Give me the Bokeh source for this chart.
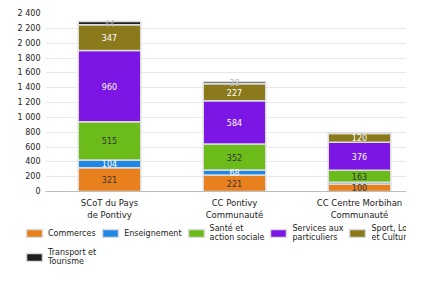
from bokeh.plotting import figure
from bokeh.layouts import column
from bokeh.models import ColumnDataSource, FixedTicker, Legend, LegendItem, Range1d
from bokeh.core.properties import value
from bokeh.embed import file_html
from bokeh.resources import INLINE

categories = ["SCoT du Pays\nde Pontivy", "CC Pontivy\nCommunauté", "CC Centre Morbihan\nCommunauté"]
series_names = ["Commerces", "Enseignement", "Santé et\naction sociale",
                "Services aux\nparticuliers", "Sport, Loisirs\net Culture", "Transport et\nTourisme"]
commerces = [321, 221, 100]
enseignement = [104, 68, 24]
sante = [515, 352, 163]
services = [960, 584, 376]
sport = [347, 227, 120]
transport = [44, 28, 8]
y_ticks = [0, 200, 400, 600, 800, 1000, 1200, 1400, 1600, 1800, 2000, 2200, 2400]

colors = ["#E8801E", "#1F87E6", "#6BBB1B", "#7B16E4", "#8A7A1C", "#1F1F1F"]
label_colors = ["#333333", "#ffffff", "#333333", "#ffffff", "#ffffff", "#b5b5b5"]
FONT = "DejaVu Sans"
EDGE = "#dcdcdc"

series = [commerces, enseignement, sante, services, sport, transport]
keys = ["s%d" % i for i in range(len(series))]
xs = list(range(len(categories)))
data = {"x": xs}
for k, s in zip(keys, series):
    data[k] = s
source = ColumnDataSource(data)

p = figure(width=406, height=222, output_backend="svg", toolbar_location=None,
           x_range=Range1d(-0.512, 2.376), y_range=Range1d(0, 2400),
           min_border_left=45, min_border_right=0, min_border_top=13, min_border_bottom=28)
p.outline_line_color = None
p.frame_align = False

p.vbar_stack(keys, x="x", width=0.5, color=colors, source=source,
             line_color=EDGE, line_width=1.5)

# data labels
lx, ly, lt, lc = [], [], [], []
for j in range(len(categories)):
    base = 0
    for i, s in enumerate(series):
        v = s[j]
        if v >= 25:
            lx.append(xs[j])
            ly.append(base + v / 2)
            lt.append(str(v))
            lc.append(label_colors[i])
        base += v
p.text(x=lx, y=ly, text=lt, text_color=lc, text_align="center", text_baseline="middle",
       text_font=value(FONT), text_font_size="8px")

# axes
p.yaxis.ticker = FixedTicker(ticks=y_ticks)
p.yaxis.major_label_overrides = {t: f"{t:,}".replace(",", " ") for t in y_ticks}
p.yaxis.axis_line_color = None
p.yaxis.major_tick_line_color = None
p.yaxis.minor_tick_line_color = None
p.yaxis.major_tick_out = 0
p.yaxis.minor_tick_out = 0
p.yaxis.major_label_standoff = 5
p.yaxis.major_label_text_font = FONT
p.yaxis.major_label_text_font_size = "8px"
p.yaxis.major_label_text_color = "#222222"

p.xaxis.ticker = FixedTicker(ticks=xs)
p.xaxis.major_label_overrides = {x: c for x, c in zip(xs, categories)}
p.xaxis.axis_line_color = "#bdbdbd"
p.xaxis.major_tick_line_color = None
p.xaxis.minor_tick_line_color = None
p.xaxis.major_tick_out = 0
p.xaxis.minor_tick_out = 0
p.xaxis.major_label_standoff = 6
p.xaxis.major_label_text_font = FONT
p.xaxis.major_label_text_font_size = "8.5px"
p.xaxis.major_label_text_color = "#222222"

p.xgrid.grid_line_color = None
p.ygrid.ticker = FixedTicker(ticks=y_ticks)
p.ygrid.grid_line_color = "#e8e8e8"

# legend in its own strip below the chart (hidden proxy bars provide the swatches)
pl = figure(width=406, height=46, output_backend="svg", toolbar_location=None,
            x_range=Range1d(0, 1), y_range=Range1d(0, 1),
            min_border_left=0, min_border_right=0, min_border_top=0, min_border_bottom=0,
            x_axis_location=None, y_axis_location=None)
pl.outline_line_color = None
pl.frame_align = False
pl.grid.grid_line_color = None
legend_renderers = [pl.vbar(x=[0.5], top=[1], width=0.5, fill_color=c, line_color=EDGE,
                            line_width=1.5, visible=False)
                    for c in colors]
legend = Legend(items=[LegendItem(label=n, renderers=[r]) for n, r in zip(series_names, legend_renderers)],
                location=(24, 1), orientation="horizontal", ncols=5,
                glyph_width=20, glyph_height=10, label_standoff=4, spacing=4,
                padding=0, margin=0, border_line_color=None, background_fill_alpha=0,
                inactive_fill_alpha=0,
                label_text_font=FONT, label_text_font_size="8px", label_text_color="#222222",
                label_height=20)
pl.add_layout(legend)

layout = column(p, pl, spacing=0)
open("out.html", "w").write(file_html(layout, INLINE))
